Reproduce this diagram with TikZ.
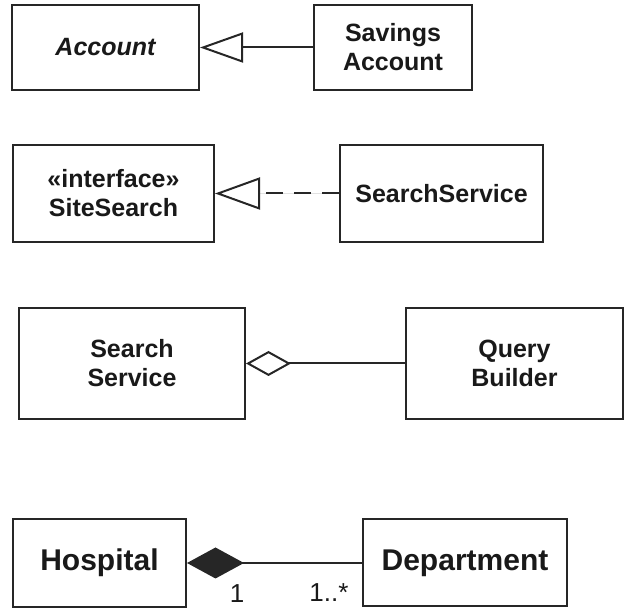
\documentclass[tikz,border=0pt]{standalone}
\usepackage{fontspec}
\setmainfont{Liberation Sans}
\usetikzlibrary{arrows.meta}

\begin{document}
\begin{tikzpicture}[x=1pt, y=-1pt,
		cls/.style = {draw = black!85, line width = 2pt, fill = white, text = black!90,
			align = center, inner sep = 0pt, font = \fontsize{25}{29}\selectfont\bfseries},
		big/.style = {font = \fontsize{30}{34}\selectfont\bfseries},
		link/.style = {draw = black!85, fill = black!90, line width = 2pt},
		mult/.style = {text = black!90, inner sep = 0pt, font = \fontsize{26}{30}\selectfont}]
				\useasboundingbox (0,0) rectangle (625,609);
				% generalization
				\node [cls, minimum width = 187pt, minimum height = 85pt] (account) at (105.5,47.5) {\itshape Account};
				\node [cls, minimum width = 158pt, minimum height = 85pt] (savings) at (393,47.5) {Savings\\Account};
				\draw [link, -{Triangle[open, length = 43pt, width = 30pt]}] (savings) -- (account);
				% realization
				\node [cls, minimum width = 201pt, minimum height = 97pt] (sitesearch) at (113.5,193.5) {«interface»\\SiteSearch};
				\node [cls, minimum width = 203pt, minimum height = 97pt] (searchservice) at (441.5,193.5) {SearchService};
				\draw [link, dash pattern = on 17pt off 11pt, -{Triangle[open, length = 45pt, width = 32pt]}] (searchservice) -- (sitesearch);
				% aggregation
				\node [cls, minimum width = 226pt, minimum height = 111pt] (service) at (132,363.5) {Search\\Service};
				\node [cls, minimum width = 217pt, minimum height = 111pt] (builder) at (514.5,363.5) {Query\\Builder};
				\draw [link, {Diamond[open, length = 45pt, width = 25pt]}-] (service) -- (builder);
				% composition
				\node [cls, big, minimum width = 173pt, minimum height = 88pt] (hospital) at (99.5,563) {Hospital};
				\node [cls, big, minimum width = 204pt, minimum height = 87pt] (department) at (465,563) {Department};
				\draw [link, {Diamond[length = 57pt, width = 31pt]}-] (hospital) -- (department);
				\node [mult] (one) at (237,594) {1};
				\node [mult] (many) at (329,593) {1..*};
			\end{tikzpicture}
\end{document}
